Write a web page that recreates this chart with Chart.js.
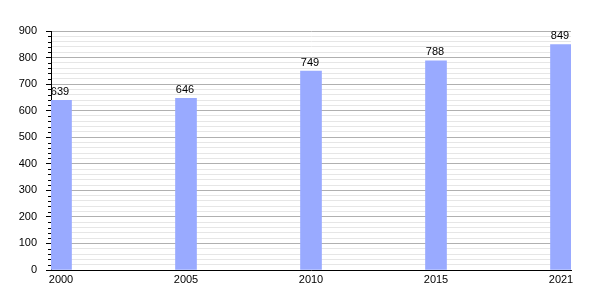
<!DOCTYPE html>
<html><head><meta charset="utf-8">
<script src="https://cdn.jsdelivr.net/npm/chart.js@4"></script>
<style>html,body{margin:0;padding:0;background:#fff}#wrap{width:600px;height:300px}</style>
</head><body><div id="wrap"><canvas id="c" width="600" height="300"></canvas></div>
<script>
const years = ['2000','2005','2010','2015','2021'];
const population = [639, 646, 749, 788, 849];
const yMax = 900;

const barColor = '#99aaff';
const FONT = 'Liberation Sans, Arial, sans-serif';

const minorTicks = {
  id: 'minorTicks',
  afterDatasetsDraw(chart) {
    const ctx = chart.ctx, y = chart.scales.y, x = chart.scales.x;
    ctx.save();
    ctx.strokeStyle = '#000'; ctx.lineWidth = 1;
    y.ticks.forEach(t => {
      if (t.value % 100 !== 0) {
        const py = Math.round(y.getPixelForValue(t.value)) + 0.5;
        ctx.beginPath(); ctx.moveTo(x.left - 3, py); ctx.lineTo(x.left, py); ctx.stroke();
      }
    });
    ctx.fillStyle = '#000';
    ctx.font = '11px ' + FONT;
    ctx.textAlign = 'center'; ctx.textBaseline = 'bottom';
    const meta = chart.getDatasetMeta(0);
    meta.data.forEach((bar, i) => {
      ctx.fillText(String(population[i]), bar.x - 1, bar.y - 3);
    });
    ctx.restore();
  }
};

new Chart(document.getElementById('c'), {
  type: 'bar',
  data: {
    datasets: [{
      data: population.map((v, i) => ({x: i, y: v})),
      backgroundColor: barColor,
      borderWidth: 0,
      barThickness: 21
    }]
  },
  options: {
    responsive: false,
    animation: false,
    devicePixelRatio: 1,
    layout: { padding: { top: 31, right: 29, left: 0, bottom: 0 } },
    plugins: { legend: { display: false }, tooltip: { enabled: false } },
    scales: {
      x: {
        type: 'linear',
        offset: false,
        min: -0.08, max: 4.08,
        afterBuildTicks: s => { s.ticks = years.map((_, i) => ({value: i})); },
        afterFit: s => { s.height = 30; },
        grid: { display: false, drawTicks: false },
        border: { display: true, color: '#000', width: 1 },
        ticks: {
          callback: v => years[v] ?? '',
          color: '#000', font: { family: FONT, size: 11 }, padding: 3,
          maxRotation: 0, autoSkip: false
        }
      },
      y: {
        min: 0, max: yMax,
        afterFit: s => { s.width = 51; },
        grid: {
          color: c => (c.tick && c.tick.value % 100 === 0) ? '#b0b0b0' : '#e6e6e6',
          tickColor: c => (c.tick && c.tick.value % 100 === 0) ? '#000' : 'rgba(0,0,0,0)',
          tickLength: 5,
          drawTicks: true
        },
        border: { display: true, color: '#000', width: 1 },
        ticks: {
          stepSize: 20,
          autoSkip: false,
          callback: v => (v % 100 === 0) ? String(v) : '',
          color: '#000', font: { family: FONT, size: 11 }, padding: 9
        }
      }
    }
  },
  plugins: [minorTicks]
});
</script></body></html>
